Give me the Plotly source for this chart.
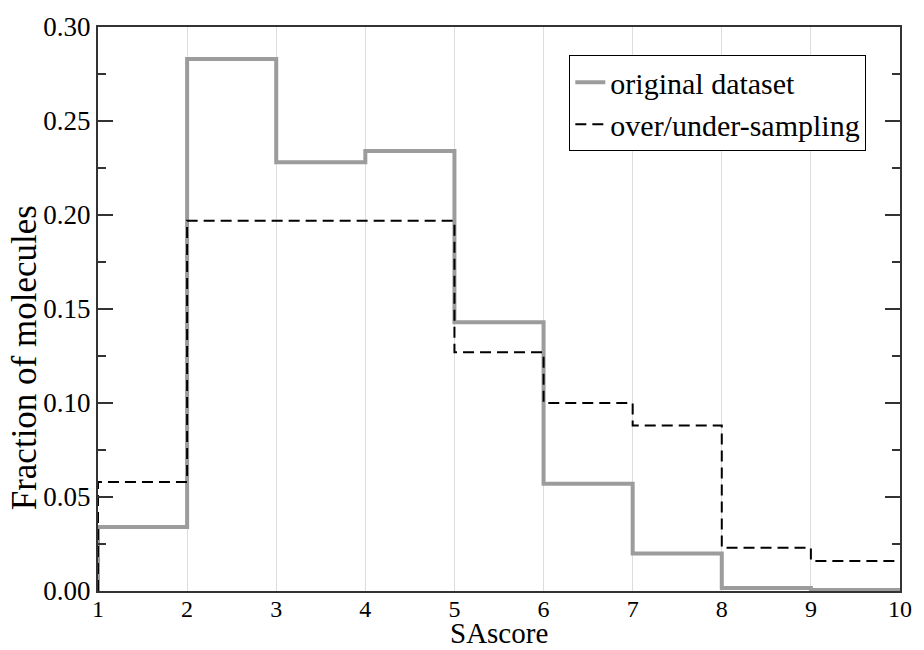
import plotly.graph_objects as go

bin_edges = [1, 2, 3, 4, 5, 6, 7, 8, 9, 10]
original = [0.034, 0.283, 0.228, 0.234, 0.143, 0.057, 0.020, 0.0016, 0.0005]
resampled = [0.058, 0.197, 0.197, 0.197, 0.127, 0.100, 0.088, 0.023, 0.016]
y_ticks = [0, 0.05, 0.10, 0.15, 0.20, 0.25, 0.30]
y_ticktext = ["0.00", "0.05", "0.10", "0.15", "0.20", "0.25", "0.30"]

def step(vals):
    xs = [bin_edges[0]] + list(bin_edges)
    ys = [0] + list(vals) + [vals[-1]]
    return xs, ys

xo, yo = step(original)
xr, yr = step(resampled)

FAM = "Liberation Serif"
fig = go.Figure()
fig.add_trace(go.Scatter(x=xo, y=yo, mode="lines", line_shape="hv",
                         line=dict(color="#9c9c9c", width=4),
                         name="original dataset"))
fig.add_trace(go.Scatter(x=xr, y=yr, mode="lines", line_shape="hv",
                         line=dict(color="black", width=2, dash="11px,6px"),
                         name="over/under-sampling"))

fig.update_layout(
    width=924, height=650,
    margin=dict(l=98, r=15, t=24, b=59),
    paper_bgcolor="white", plot_bgcolor="white",
    font=dict(family=FAM, size=25, color="black"),
    showlegend=True,
    legend=dict(x=0.958, y=0.950, xanchor="right", yanchor="top",
                bgcolor="white", bordercolor="black", borderwidth=1,
                font=dict(family=FAM, size=30, color="black"),
                tracegroupgap=0, itemwidth=30),
    annotations=[
        dict(text="SAscore", xref="paper", yref="paper", x=0.5, y=-59/567,
             xanchor="center", yanchor="bottom", showarrow=False, borderpad=0,
             font=dict(family=FAM, size=29, color="black")),
        dict(text="Fraction of molecules", xref="paper", yref="paper", x=-0.092, y=0.413,
             xanchor="center", yanchor="middle", showarrow=False, textangle=-90,
             font=dict(family=FAM, size=35, color="black")),
    ],
)
fig.update_xaxes(range=[1, 10], tickvals=bin_edges, ticktext=[str(v) for v in bin_edges],
                 showgrid=True, gridcolor="#dddddd", gridwidth=1,
                 showline=True, linecolor="#333333", linewidth=2, mirror=True,
                 ticks="", zeroline=False, ticklabelstandoff=-5,
                 tickfont=dict(family=FAM, size=24, color="black"))
fig.update_yaxes(range=[0, 0.30], tickvals=y_ticks, ticktext=y_ticktext,
                 showgrid=False, zeroline=False,
                 showline=True, linecolor="#333333", linewidth=2, mirror="allticks",
                 ticks="inside", ticklen=15, tickwidth=2, tickcolor="#333333",
                 minor=dict(dtick=0.025, ticks="inside", ticklen=8, tickwidth=2,
                            tickcolor="#333333", showgrid=False),
                 tickfont=dict(family=FAM, size=27, color="black"))

fig.write_html("out.html", config={"displayModeBar": False},
               post_script="document.body.style.margin='0';document.body.style.overflow='hidden';")
